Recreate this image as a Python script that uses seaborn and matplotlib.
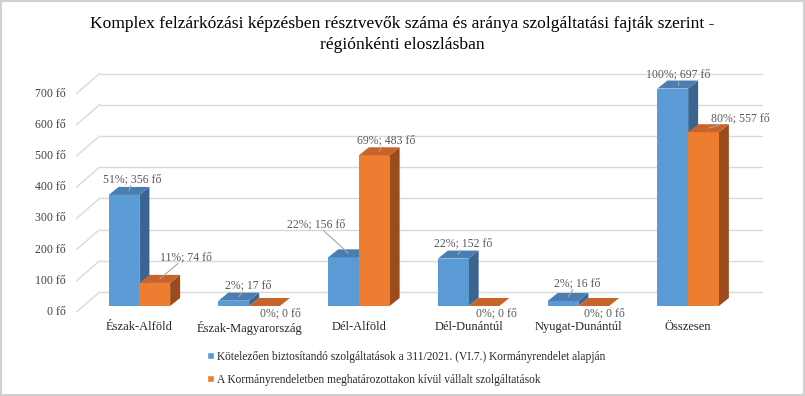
import matplotlib
matplotlib.use("Agg")
import pandas as pd
import seaborn as sns
from matplotlib import pyplot as plt
from matplotlib.patches import Polygon, Rectangle
from matplotlib.transforms import IdentityTransform

regions = ['Észak-Alföld', 'Észak-Magyarország', 'Dél-Alföld',
           'Dél-Dunántúl', 'Nyugat-Dunántúl', 'Összesen']
kotelezo = [356, 17, 156, 152, 16, 697]
vallalt = [74, 0, 483, 0, 0, 557]
kotelezo_pct = [51, 2, 22, 22, 2, 100]
vallalt_pct = [11, 0, 69, 0, 0, 80]
series = ['Kötelezően biztosítandó szolgáltatások a 311/2021. (VI.7.) Kormányrendelet alapján',
          'A Kormányrendeletben meghatározottakon kívül vállalt szolgáltatások']
yticks = [0, 100, 200, 300, 400, 500, 600, 700]
title = ('Komplex felzárkózási képzésben résztvevők száma és aránya szolgáltatási fajták szerint -\n'
         'régiónkénti eloszlásban')

# label offsets from the front-top centre of each bar, in pixels (x right, y down)
blue_off = [(8, -16), (14, -15), (-27, -33), (10, -15), (14, -18), (5, -14)]
orange_off = [(31, -26), (16, 7), (12, -15), (12, 7), (11, 7), (37, -14)]

front = ['#5B9BD5', '#ED7D31']
top = ['#4A7DB0', '#C8632A']
side = ['#3A6591', '#9C4C1C']
DX, DY = 10, 8  # depth of the 3d bars in px

df = pd.DataFrame({
    'region': regions * 2,
    'value': kotelezo + vallalt,
    'series': [series[0]] * 6 + [series[1]] * 6,
})

sns.set_style('white')
plt.rcParams['font.family'] = ['Liberation Serif', 'DejaVu Serif']

fig = plt.figure(figsize=(8.05, 3.96), dpi=100)
ax = fig.add_axes([0.105, 0.2273, 0.818, 0.5515])
sns.barplot(data=df, x='region', y='value', hue='series', palette=front,
            saturation=1, width=0.56, ax=ax, legend=True)
ax.set_xlim(-0.5, 5.5)
ax.set_ylim(0, 700)
ax.set_yticks([])
ax.set_xlabel('')
ax.set_ylabel('')
for s in ax.spines.values():
    s.set_visible(False)
ax.tick_params(axis='x', length=0, pad=11, labelsize=9, labelcolor='#262626')

pix = IdentityTransform()
xl, _ = ax.transData.transform((-0.5, 0))

# back wall grid and floor diagonals
for v in yticks:
    _, yv = ax.transData.transform((-0.5, v))
    ax.plot([xl + 15, xl + 677], [yv + 14, yv + 14], color='#D9D9D9', lw=1,
            transform=pix, clip_on=False, zorder=0.5)
    ax.plot([xl - 8, xl + 15], [yv - 6, yv + 14], color='#D9D9D9', lw=1,
            transform=pix, clip_on=False, zorder=0.5)
    ax.text(xl - 19, yv - 6, f'{v} fő', transform=pix, ha='right', va='center',
            fontsize=8.5, color='#404040')

values = [kotelezo, vallalt]
pcts = [kotelezo_pct, vallalt_pct]
offs = [blue_off, orange_off]
for k, cont in enumerate(ax.containers[:2]):
    for i, bar in enumerate(cont.patches):
        x0 = bar.get_x()
        x1 = x0 + bar.get_width()
        h = bar.get_height()
        bar.set_zorder(2 + k)
        bar.set_edgecolor('none')
        (px0, py0), (px1, py1) = ax.transData.transform([(x0, 0), (x1, h)])
        sf = Polygon([(px1, py0), (px1, py1), (px1 + DX, py1 + DY), (px1 + DX, py0 + DY)],
                     closed=True, facecolor=side[k], edgecolor='none',
                     transform=pix, clip_on=False, zorder=1.9 + k)
        tf = Polygon([(px0, py1), (px1, py1), (px1 + DX, py1 + DY), (px0 + DX, py1 + DY)],
                     closed=True, facecolor=top[k], edgecolor='none',
                     transform=pix, clip_on=False, zorder=2.1 + k)
        ax.add_patch(sf)
        ax.add_patch(tf)

        cx = (px0 + px1) / 2
        ox, oy = offs[k][i]
        tx, ty = cx + ox, py1 - oy
        lab = f'{pcts[k][i]}%; {values[k][i]} fő'
        ax.text(tx, ty, lab, transform=pix, ha='center', va='center',
                fontsize=8.5, color='#595959', zorder=5)
        if values[k][i] > 0:
            ax0, ay0 = cx + DX / 2, py1 + DY / 2
            hw, hh = len(lab) * 2.6, 6.5
            ddx, ddy = ax0 - tx, ay0 - ty
            t = min(hw / abs(ddx) if ddx else 9, hh / abs(ddy) if ddy else 9)
            if t < 1:
                ax.plot([ax0, tx + ddx * t], [ay0, ty + ddy * t], color='#A6A6A6',
                        lw=0.8, transform=pix, clip_on=False, zorder=4.5)

handles, labels = ax.get_legend_handles_labels()
ax.legend_.remove()
fig.legend(handles, labels, loc='upper left', bbox_to_anchor=(201 / 805, 1 - 345 / 396),
           frameon=False, fontsize=8.3, handlelength=0.6, handleheight=0.6,
           handletextpad=0.3, labelspacing=0.95, borderpad=0, labelcolor='#262626')

fig.suptitle(title, y=0.96, fontsize=12.6, color='#000000', linespacing=1.4)
fig.patches.append(Rectangle((0, 0), 1, 1, transform=fig.transFigure, fill=False,
                             edgecolor='#D0D0D0', lw=3))
fig.savefig('out.png', dpi=100, facecolor='white')
